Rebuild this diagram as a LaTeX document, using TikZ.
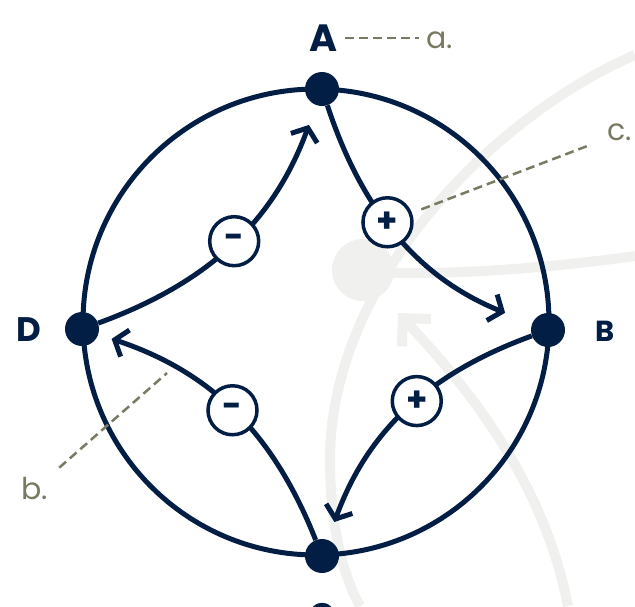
\documentclass[tikz,border=0pt]{standalone}
\usepackage{fontspec}
\setmainfont{Poppins}
\usepackage{tikz}
\usetikzlibrary{arrows.meta}
\definecolor{navy}{RGB}{3,30,68}
\definecolor{leadgray}{RGB}{122,122,98}
\definecolor{ghost}{RGB}{240,240,238}

\begin{document}
\begin{tikzpicture}[x=1pt, y=-1pt,
 dot/.style={circle, fill=navy, minimum size=34pt, inner sep=0pt},
 sign/.style={circle, draw=navy, fill=white, line width=3.5pt,
          minimum size=49pt, inner sep=0pt,
          font=\bfseries\fontsize{34}{34}\selectfont, text=navy},
 ring/.style={draw=navy, line width=5pt},
 flow/.style={-{Straight Barb[length=11pt,width=28pt]}, draw=navy,
         line width=5pt},
 vertex/.style={text=navy, inner sep=2pt},
 note/.style={font=\fontsize{30}{30}\selectfont, text=leadgray, inner sep=2pt},
 leader/.style={draw=leadgray, line width=2.5pt, dash pattern=on 9pt off 5pt},
 ghostline/.style={draw=ghost, line width=10pt}
]
\useasboundingbox (0,0) rectangle (635,606);
% faint backdrop behind the cycle
\draw[ghostline] (635,55) .. controls (494,116) and (330,280) .. (330,460)
  .. controls (330,530) and (345,580) .. (360,606);
\draw[ghostline] (363,272) .. controls (450,276) and (550,268) .. (635,256);
\fill[ghost] (363,270) circle (31pt);
\draw[ghostline, -{Straight Barb[length=20pt,width=40pt]}] (568,606)
  .. controls (545,490) and (480,400) .. (398,313);
% the ring and its four stations
\coordinate (ctr) at (316,322);
\draw[ring] (ctr) circle[radius=233pt];
\node[dot] (A) at (322,89) {};
\node[dot] (B) at (548,330) {};
\node[dot] (C) at (322,556) {};
\node[dot] (D) at (82,329) {};
\node[vertex, font=\bfseries\fontsize{38}{38}\selectfont] (lblA) at (323,38) {A};
\node[vertex, font=\bfseries\fontsize{29}{29}\selectfont] (lblB) at (605,331) {B};
\node[vertex, font=\bfseries\fontsize{34}{34}\selectfont] (lblC) at (322,616) {C};
\node[vertex, font=\bfseries\fontsize{34}{34}\selectfont] (lblD) at (29,330) {D};
% inward arcs with their signs
\draw[flow, shorten >=21pt] (D) to[bend right=25] node[sign, pos=.5] (mDA) {-} (A);
\draw[flow, shorten >=29pt] (A) to[bend right=25] node[sign, pos=.42] (pAB) {+} (B);
\draw[flow, shorten >=19pt] (B) to[bend right=25] node[sign, pos=.44] (pBC) {+} (C);
\draw[flow, shorten >=14pt] (C) to[bend right=25] node[sign, pos=.5] (mCD) {-} (D);
% callouts
\node[note] (lbla) at (440,40) {a.};
\node[note] (lblb) at (35,489) {b.};
\node[note] (lblc) at (620,132) {c.};
\coordinate (bTip) at (167,373);
\coordinate (cTip) at (590,145);
\draw[leader, shorten <=6pt, shorten >=6pt] (lblA.east) -- (lblA.east -| lbla.west);
\draw[leader, shorten <=10pt] (pAB) -- (cTip);
\draw[leader, shorten <=12pt] (lblb) -- (bTip);
\end{tikzpicture}
\end{document}
